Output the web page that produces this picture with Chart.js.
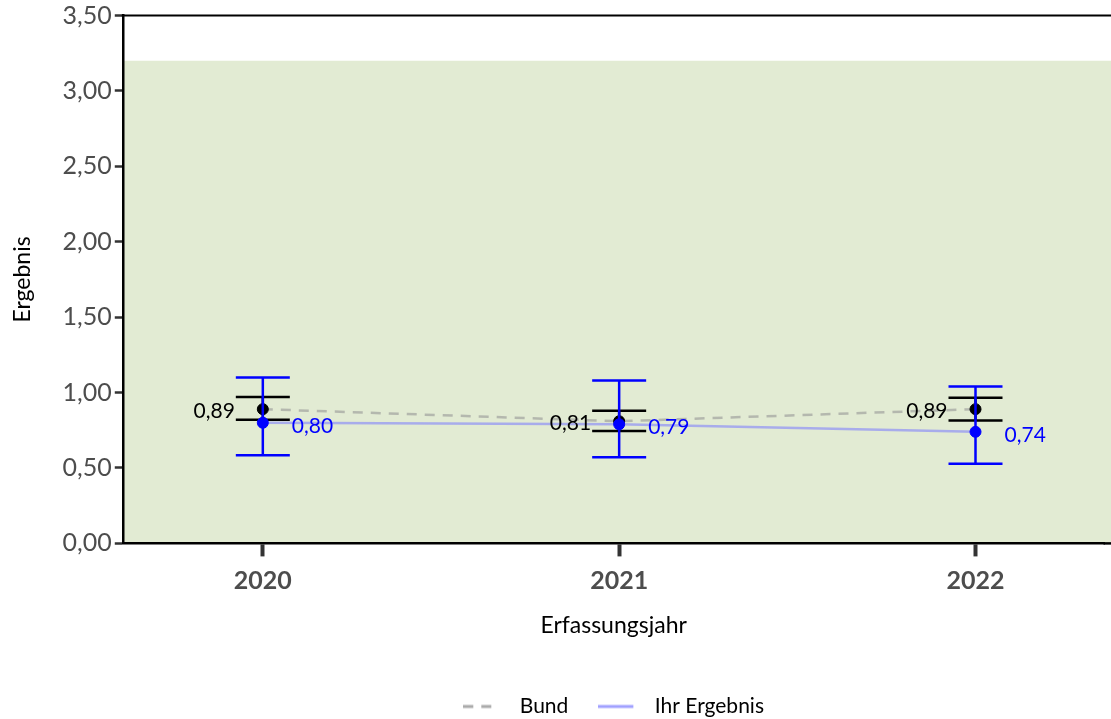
<!DOCTYPE html>
<html>
<head>
<meta charset="utf-8">
<script src="https://cdn.jsdelivr.net/npm/chart.js@4"></script>
<style>
  html, body { margin: 0; padding: 0; background: #fff; }
  #wrap { width: 1111px; height: 719px; }
</style>
</head>
<body>
<div id="wrap"><canvas id="mycanvas" width="1111" height="719"></canvas></div>
<script>
// data
var jahre = [2020, 2021, 2022];
var bund = [0.89, 0.81, 0.89];
var bundLow = [0.82, 0.745, 0.815];
var bundHigh = [0.97, 0.88, 0.965];
var ihr = [0.80, 0.79, 0.74];
var ihrLow = [0.585, 0.572, 0.528];
var ihrHigh = [1.10, 1.08, 1.04];
var yTicks = [0, 0.5, 1, 1.5, 2, 2.5, 3, 3.5];
var bereichMax = 3.2;

function fmt(v) { return v.toFixed(2).replace('.', ','); }
function pts(arr) { return jahre.map(function(j, i) { return {x: j, y: arr[i]}; }); }

var FONT = "Lato, 'Open Sans', sans-serif";
var legendFarben = ['#aaaaaa', '#a0a0ff'];

// kleines Bild fuer das Legendensymbol (Linie links, Luft rechts)
function legendSymbol(color, dash) {
  var c = document.createElement('canvas');
  c.width = 46; c.height = 6;
  var g = c.getContext('2d');
  g.strokeStyle = color;
  g.lineWidth = 3;
  g.setLineDash(dash);
  g.beginPath();
  g.moveTo(0, 3); g.lineTo(35, 3);
  g.stroke();
  return c;
}

var hintergrund = {
  id: 'hintergrund',
  beforeDraw: function(chart) {
    var ctx = chart.ctx, a = chart.chartArea, y = chart.scales.y;
    ctx.save();
    ctx.fillStyle = '#e2ebd3';
    var top = y.getPixelForValue(bereichMax), bot = y.getPixelForValue(0);
    ctx.fillRect(a.left, top, chart.width - a.left, bot - top);
    ctx.restore();
  },
  afterDraw: function(chart) {
    // obere Linie + Achse bis zum Rand
    var ctx = chart.ctx, a = chart.chartArea;
    ctx.save();
    ctx.strokeStyle = '#000';
    ctx.lineWidth = 2;
    ctx.beginPath();
    ctx.moveTo(a.left - 1, a.top);
    ctx.lineTo(chart.width, a.top);
    ctx.stroke();
    ctx.lineWidth = 2.5;
    ctx.beginPath();
    ctx.moveTo(a.right - 1, a.bottom);
    ctx.lineTo(chart.width, a.bottom);
    ctx.stroke();
    ctx.restore();
  }
};

function fehlerbalken(chart, low, high, color) {
  var ctx = chart.ctx, x = chart.scales.x, y = chart.scales.y;
  ctx.save();
  ctx.strokeStyle = color;
  ctx.lineWidth = 2.5;
  for (var i = 0; i < jahre.length; i++) {
    var px = x.getPixelForValue(jahre[i]);
    var y1 = y.getPixelForValue(low[i]), y2 = y.getPixelForValue(high[i]);
    ctx.beginPath();
    ctx.moveTo(px, y1); ctx.lineTo(px, y2);
    ctx.moveTo(px - 27, y1); ctx.lineTo(px + 27, y1);
    ctx.moveTo(px - 27, y2); ctx.lineTo(px + 27, y2);
    ctx.stroke();
  }
  ctx.restore();
}

var balken = {
  id: 'balken',
  beforeDatasetDraw: function(chart, args) {
    if (args.index === 2) fehlerbalken(chart, bundLow, bundHigh, '#000');
    if (args.index === 3) fehlerbalken(chart, ihrLow, ihrHigh, '#0000ff');
  },
  afterDatasetsDraw: function(chart) {
    var ctx = chart.ctx, x = chart.scales.x, y = chart.scales.y;
    ctx.save();
    ctx.font = '21px ' + FONT;
    ctx.textBaseline = 'middle';
    for (var i = 0; i < jahre.length; i++) {
      var px = x.getPixelForValue(jahre[i]);
      ctx.fillStyle = '#000';
      ctx.textAlign = 'right';
      ctx.fillText(fmt(bund[i]), px - 28, y.getPixelForValue(bund[i]) + 2);
      ctx.fillStyle = '#0000ff';
      ctx.textAlign = 'left';
      ctx.fillText(fmt(ihr[i]), px + 29, y.getPixelForValue(ihr[i]) + 3);
    }
    ctx.restore();
  }
};

var ctx = document.getElementById('mycanvas');
var chart = new Chart(ctx, {
  type: 'scatter',
  data: {
    datasets: [
      {
        label: 'Bund',
        data: pts(bund),
        showLine: true,
        borderColor: 'rgba(150,150,150,0.6)',
        backgroundColor: 'rgba(150,150,150,0.6)',
        borderDash: [10, 8],
        borderWidth: 2.5,
        pointRadius: 0,
        order: 3
      },
      {
        label: 'Ihr Ergebnis',
        data: pts(ihr),
        showLine: true,
        borderColor: 'rgba(120,120,255,0.55)',
        backgroundColor: 'rgba(120,120,255,0.55)',
        borderWidth: 2.5,
        pointRadius: 0,
        order: 2
      },
      {
        label: 'Bund Punkt',
        data: pts(bund),
        backgroundColor: '#000',
        borderColor: '#000',
        pointRadius: 5.5,
        order: 1
      },
      {
        label: 'Ihr Punkt',
        data: pts(ihr),
        backgroundColor: '#0000ff',
        borderColor: '#0000ff',
        pointRadius: 5.5,
        order: 0
      }
    ]
  },
  options: {
    responsive: false,
    animation: false,
    layout: { padding: { top: 0, right: 0, left: 9, bottom: -8 } },
    plugins: {
      tooltip: { enabled: false },
      legend: {
        position: 'bottom',
        fullSize: false,
        labels: {
          font: { family: FONT, size: 21 },
          color: '#000',
          usePointStyle: true,
          pointStyleWidth: 46,
          boxWidth: 46,
          boxHeight: 12,
          padding: 30,
          generateLabels: function(chart) {
            return chart.data.datasets.slice(0, 2).map(function(ds, i) {
              return {
                text: ds.label,
                datasetIndex: i,
                fillStyle: legendFarben[i],
                strokeStyle: legendFarben[i],
                lineWidth: 3,
                pointStyle: legendSymbol(legendFarben[i], ds.borderDash || []),
                fontColor: '#000',
                hidden: false
              };
            });
          }
        }
      }
    },
    scales: {
      x: {
        type: 'linear',
        min: 2019.607,
        max: 2022.362,
        afterBuildTicks: function(axis) {
          axis.ticks = jahre.map(function(j) { return {value: j}; });
        },
        ticks: {
          font: { family: FONT, size: 25, weight: 'bold' },
          color: '#4d4d4d',
          padding: 10,
          callback: function(v) { return String(v); }
        },
        grid: {
          drawOnChartArea: false,
          drawTicks: true,
          tickLength: 13,
          tickWidth: 4,
          tickColor: '#333'
        },
        border: { color: '#000', width: 2.5 },
        title: {
          display: true,
          text: 'Erfassungsjahr',
          font: { family: FONT, size: 23 },
          color: '#000',
          padding: { top: 5, bottom: 27 }
        }
      },
      y: {
        min: 0,
        max: 3.5,
        afterBuildTicks: function(axis) {
          axis.ticks = yTicks.map(function(v) { return {value: v}; });
        },
        ticks: {
          font: { family: FONT, size: 25, lineHeight: 1.0 },
          color: '#4d4d4d',
          padding: 3,
          callback: function(v) { return fmt(v); }
        },
        grid: {
          drawOnChartArea: false,
          drawTicks: true,
          tickLength: 8,
          tickWidth: 2.5,
          tickColor: '#333'
        },
        border: { color: '#000', width: 2.5 },
        title: {
          display: true,
          text: 'Ergebnis',
          font: { family: FONT, size: 23 },
          color: '#000',
          padding: { top: 0, bottom: 23 }
        }
      }
    }
  },
  plugins: [hintergrund, balken]
});
</script>
</body>
</html>
